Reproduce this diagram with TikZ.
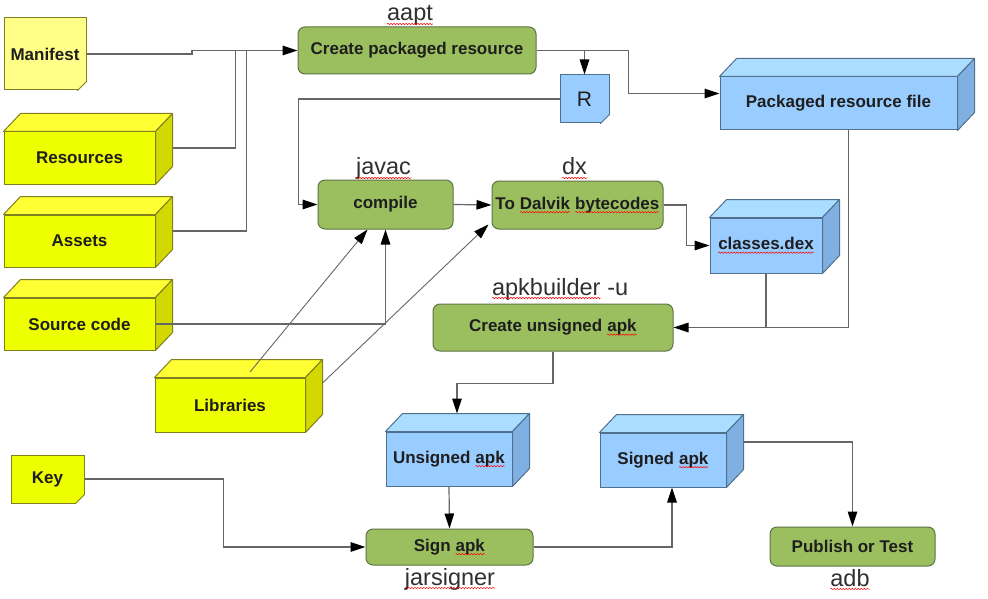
\documentclass[tikz,border=0pt]{standalone}
\usepackage{fontspec}
\setmainfont{Liberation Sans}
\usetikzlibrary{arrows.meta,calc,decorations.pathmorphing}
\newcommand\sq[1]{\tikz[baseline=(sqw.base)]{\node[shape=rectangle, draw=none, fill=none, inner sep=0pt, outer sep=0pt, minimum width=0pt, minimum height=0pt, rounded corners=0pt, anchor=base] (sqw) at (0,0) {#1};\draw[red, line width=0.5pt, sharp corners, decorate, decoration={snake, amplitude=0.7pt, segment length=3pt}] ([yshift=-3pt]sqw.base west) -- ([yshift=-3pt]sqw.base east);}}
\definecolor{yelfront}{HTML}{EEFF00}
\definecolor{yeltop}{HTML}{FFFF33}
\definecolor{yelside}{HTML}{D2D800}
\definecolor{yeledge}{HTML}{808020}
\definecolor{blufront}{HTML}{99CCFF}
\definecolor{blutop}{HTML}{AADDFF}
\definecolor{bluside}{HTML}{80B0E2}
\definecolor{bluedge}{HTML}{50708E}
\definecolor{manifestfill}{HTML}{FFFF88}
\definecolor{keyfill}{HTML}{EEFF00}
\definecolor{notefold}{HTML}{C8C860}
\definecolor{procfill}{HTML}{9BBF5F}
\definecolor{procedge}{HTML}{5E7446}
\definecolor{linegray}{HTML}{666666}
\definecolor{txt}{HTML}{1E1E1E}
\definecolor{lbltxt}{HTML}{303030}
\tikzset{
  boxtext/.style={font=\fontsize{17}{20}\selectfont\bfseries, text=txt},
  cube/.style={boxtext, draw, line width=1pt, inner sep=0pt},
  cubeface/.style={line width=1pt, line join=round},
  notebox/.style={boxtext, draw=#1, line width=1pt, inner sep=0pt},
  notebox/.default=yeledge,
  proc/.style={boxtext, draw=procedge, fill=procfill, line width=1pt, rounded corners=7pt, inner sep=0pt},
  lbl/.style={font=\fontsize{23.5}{28}\selectfont, text=lbltxt, anchor=base, inner sep=0pt},
  conn/.style={draw=linegray, line width=1.2pt},
  arr/.style={conn, -{Triangle[length=15pt,width=9.5pt,color=black]}},
}
% name, position, width, height, palette, text
\newcommand\cubenode[6]{%
  \node[cube, fill=#5front, draw=#5edge, minimum width=#3, minimum height=#4] (#1) at (#2) {#6};
  \filldraw[cubeface, fill=#5top, draw=#5edge] (#1.north west) -- ++(17,-18) -- ([shift={(17,-18)}]#1.north east) -- (#1.north east) -- cycle;
  \filldraw[cubeface, fill=#5side, draw=#5edge] (#1.north east) -- ++(17,-18) -- ([shift={(17,-18)}]#1.south east) -- (#1.south east) -- cycle;
}
% name, position, width, height, fill, edge, text
\newcommand\notenode[7]{%
  \node[notebox=#6, fill=#5, minimum width=#3, minimum height=#4] (#1) at (#2) {#7};
  \fill[white] ([shift={(-9,0.6)}]#1.south east) -- ([shift={(0.6,0.6)}]#1.south east) -- ([shift={(0.6,-9)}]#1.south east) -- cycle;
  \filldraw[draw=#6, fill=notefold, line width=1pt, line join=round] ([shift={(-9,0)}]#1.south east) -- ([shift={(0,-9)}]#1.south east) -- ([shift={(-7,-2)}]#1.south east) -- cycle;
}
\begin{document}
\begin{tikzpicture}[x=1pt,y=-1pt]
\useasboundingbox (0,0) rectangle (988,599);
\fill[white] (0,0) rectangle (988,599);

% inputs
\notenode{manifest}{45,54}{82}{72}{manifestfill}{yeledge}{Manifest}
\cubenode{res}{79.5,158}{151}{52}{yel}{Resources}
\cubenode{assets}{79.5,241}{151}{52}{yel}{Assets}
\cubenode{src}{79.5,324}{151}{52}{yel}{Source code}
\cubenode{libs}{230,405}{150}{54}{yel}{Libraries}
\notenode{key}{47.5,479}{73}{48}{keyfill}{yeledge}{Key}

% processes
\node[proc, minimum width=238, minimum height=47] (cpr) at (417,50.5) {Create packaged resource};
\node[proc, minimum width=135, minimum height=49] (compile) at (385.5,204.5) {compile};
\node[proc, minimum width=171, minimum height=48] (dalvik) at (577.5,205) {To \sq{Dalvik} \sq{bytecodes}};
\node[proc, minimum width=240, minimum height=47] (cua) at (553,327.5) {Create unsigned \sq{apk}};
\node[proc, minimum width=167, minimum height=36] (sign) at (449.5,547) {Sign \sq{apk}};
\node[proc, minimum width=165, minimum height=39] (pub) at (852.5,546.5) {Publish or Test};

% artefacts
\notenode{R}{584.5,99}{49}{48}{blufront}{bluedge}{\mdseries\fontsize{21}{24}\selectfont R}
\cubenode{prf}{838.5,103.5}{237}{53}{blu}{Packaged resource file}
\cubenode{classes}{766,245.5}{112}{55}{blu}{\sq{classes.dex}}
\cubenode{uns}{449,459}{126}{54}{blu}{Unsigned \sq{apk}}
\cubenode{signed}{663,460}{126}{54}{blu}{Signed \sq{apk}}

% tool labels
\node[lbl] (laapt) at (410,21) {\sq{aapt}};
\node[lbl] (ljavac) at (383.5,175) {\sq{javac}};
\node[lbl] (ldx) at (574.5,175) {\sq{dx}};
\node[lbl] (lapkb) at (560,295) {\sq{apkbuilder} -u};
\node[lbl] (ljar) at (450,585) {\sq{jarsigner}};
\node[lbl] (ladb) at (850,586) {\sq{adb}};

% connectors
\draw[arr] (manifest.east) -- (192,54) |- (cpr.west);
\draw[conn] ([shift={(17,-10)}]res.east) -| ($(cpr.west)+(-62,0)$);
\draw[conn] ([shift={(17,-10)}]assets.east) -| ($(cpr.west)+(-51,0)$);
\draw[arr] (src.east) -| (compile.south);
\draw[arr, line width=0.9pt] ([shift={(20,-33)}]libs.center) -- ([xshift=-18]compile.south);
\draw[arr, line width=0.9pt] ([shift={(17,-22)}]libs.east) -- ([shift={(-3,-5)}]dalvik.south west);
\draw[arr] (cpr.east) -| (R.north);
\draw[arr] (cpr.east) -- ++(92,0) |- ([shift={(0,-10)}]prf.west);
\draw[arr] (R.west) -| ($(compile.west)+(-19,0)$) -- (compile.west);
\draw[arr] (compile.east) -- (dalvik.west);
\draw[arr] (dalvik.east) -- ++(23,0) |- (classes.west);
\draw[conn] (classes.south) |- (cua.east);
\draw[arr] ([xshift=10]prf.south) |- (cua.east);
\draw[arr] (cua.south) -- ++(0,32) -| ([shift={(8,-18)}]uns.north);
\draw[arr] (uns.south) -- (sign.north);
\draw[arr] (key.east) -- ++(139,0) |- (sign.west);
\draw[arr] (sign.east) -| ([xshift=9]signed.south);
\draw[arr] ([shift={(17,-18)}]signed.east) -| (pub.north);
\end{tikzpicture}
\end{document}
